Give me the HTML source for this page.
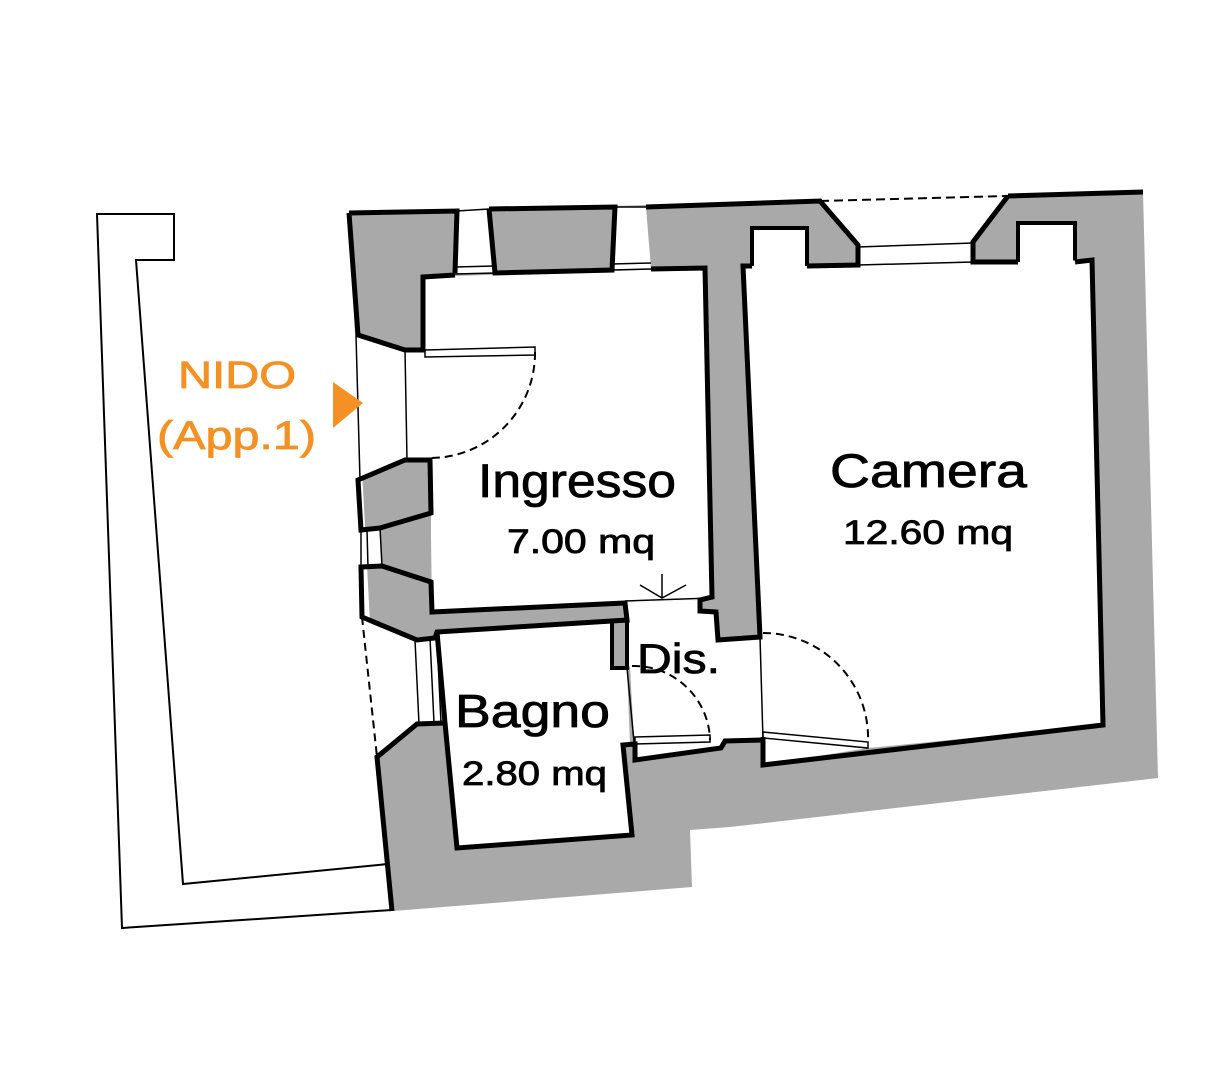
<!DOCTYPE html>
<html><head><meta charset="utf-8"><style>
html,body{margin:0;padding:0;background:#fff;}
svg{display:block;}
text{font-family:"Liberation Sans",sans-serif;}
</style></head><body>
<svg width="1231" height="1080" viewBox="0 0 1231 1080" xmlns="http://www.w3.org/2000/svg">
<rect width="1231" height="1080" fill="#fff"/>
<polygon points="97,214 174,214 174,260 136,260 183,884 388,864 392,910 122,928" fill="#fff" stroke="#000" stroke-width="2"/>

<polygon points="349,213 1143,192 1158,778 730,827 690,830 692,887 393,911 377,757 355,335" fill="#a9a9a9"/>

<polygon points="340,335 358,335 405,350 405,460 358,480 361,530 382,528 382,566 361,567 362,617 417,640 417,724 377,757 340,760" fill="#fff"/>
<polygon points="457,211 489,209 495,273 455,273" fill="#fff"/>
<polygon points="615,207 646,207 651,269 612,270" fill="#fff"/>
<polygon points="820,200 1008,196 973,242 973,262 858,265 858,245" fill="#fff"/>
<rect x="752" y="228" width="55" height="40" fill="#fff" stroke="#000" stroke-width="4"/>
<rect x="1018" y="223" width="57" height="41" fill="#fff" stroke="#000" stroke-width="4"/>

<polygon points="423,350 423,277 705,268 712,597 700,600 625,603 432,612 430,460 405,460 405,350" fill="#fff"/>
<polygon points="380,528 431,513 431,582 382,566" fill="#a9a9a9"/>
<polygon points="361,530 380,528 382,566 361,567" fill="#fff"/>
<polygon points="743,266 807,266 858,265 973,262 1018,262 1092,260 1103,725 868,748 763,765 763,740 760,637" fill="#fff"/>
<polygon points="625,603 700,600 700,611 716,612 718,640 760,637 763,740 725,741 721,748 635,760 630,666 627,668 627,620 625,603" fill="#fff"/>
<polygon points="437,632 610,620 612,668 627,668 630,745 623,745 632,835 457,848 445,723" fill="#fff"/>
<polygon points="417,640 437,638 445,723 417,724" fill="#fff"/>

<g fill="none" stroke="#000" stroke-linejoin="miter">
<polyline points="349,213 457,211 455,273" stroke-width="5"/>
<polyline points="489,209 615,207 612,270 495,273 489,209" stroke-width="5"/>
<polyline points="646,207 820,201 858,245 858,265 807,266" stroke-width="5"/>
<polyline points="1008,196 1143,192" stroke-width="5"/>
<polyline points="1008,196 973,242 973,262 1018,262" stroke-width="5"/>
<line x1="820" y1="201" x2="1008" y2="196" stroke-width="2" stroke-dasharray="9,5"/>
<line x1="457" y1="211" x2="489" y2="209" stroke-width="1.5"/>
<line x1="615" y1="207" x2="646" y2="207" stroke-width="1.5"/>
<line x1="455" y1="267" x2="495" y2="266" stroke-width="1.5"/>
<line x1="455" y1="274" x2="495" y2="273" stroke-width="1.5"/>
<line x1="612" y1="264" x2="651" y2="263" stroke-width="1.5"/>
<line x1="612" y1="270" x2="651" y2="269" stroke-width="1.5"/>
<line x1="858" y1="247" x2="973" y2="243" stroke-width="1.5"/>
<line x1="858" y1="265" x2="973" y2="262" stroke-width="1.5"/>
<polyline points="349,213 358,335 405,350 423,350 423,277 455,275" stroke-width="5"/>
<polyline points="651,269 705,268 712,597 700,600 700,611 716,612 718,640 760,637 743,266 752,266" stroke-width="5"/>
<line x1="356" y1="335" x2="360" y2="480" stroke-width="1.5"/>
<line x1="405" y1="350" x2="407" y2="460" stroke-width="1.5"/>
<polygon points="358,480 405,460 430,460 431,513 380,528 361,530" stroke-width="5"/>
<polygon points="361,567 382,566 431,582 432,612 625,603 627,620 437,632 435,638 417,640 362,617" stroke-width="5"/>
<line x1="361" y1="530" x2="361" y2="567" stroke-width="1.5"/>
<line x1="380" y1="528" x2="382" y2="566" stroke-width="1.5"/>
<line x1="367" y1="530" x2="368" y2="567" stroke-width="1.5"/>
<polyline points="612,622 612,668 627,668 627,620" stroke-width="4"/>
<polyline points="437,632 445,723 457,848 632,835 623,745 635,744 635,760 721,748 725,741 763,740" stroke-width="5"/>
<polyline points="763,737 763,765 1103,725 1092,260 1075,262" stroke-width="5"/>
<line x1="415" y1="640" x2="419" y2="724" stroke-width="1.5"/>
<line x1="430" y1="638" x2="434" y2="723" stroke-width="1.5"/>
<line x1="437" y1="638" x2="441" y2="723" stroke-width="1.5"/>
<polyline points="392,911 377,757 417,724 445,723" stroke-width="5"/>
<line x1="362" y1="617" x2="377" y2="757" stroke-width="2" stroke-dasharray="8,5"/>
<line x1="627" y1="668" x2="634" y2="742" stroke-width="1.5"/>
<line x1="760" y1="637" x2="763" y2="740" stroke-width="1.5"/>
<line x1="625" y1="601" x2="712" y2="598" stroke-width="1.5"/>
<line x1="662" y1="598" x2="662" y2="574" stroke-width="1.5"/>
<polyline points="640,585 662,598 686,585" stroke-width="1.5"/>
<polygon points="425,350 535,347 535,355 425,357" stroke-width="1.5"/>
<path d="M535,352 A105,105 0 0 1 430,458" stroke-width="2" stroke-dasharray="8,5"/>
<polygon points="635,737 710,735 710,742 635,744" stroke-width="1.5"/>
<path d="M632,666 A76,76 0 0 1 710,740" stroke-width="2" stroke-dasharray="8,5"/>
<polygon points="763,732 868,742 868,748 763,738" stroke-width="1.5"/>
<path d="M763,633 A105,105 0 0 1 868,742" stroke-width="2" stroke-dasharray="8,5"/>
</g>

<polygon points="333,382 363,403 333,428" fill="#f39125"/>
<g stroke-width="0.8">
<text x="178" y="388" font-size="38" fill="#f39125" stroke="#f39125" textLength="118" lengthAdjust="spacingAndGlyphs">NIDO</text>
<text x="157" y="449" font-size="40" fill="#f39125" stroke="#f39125" textLength="159" lengthAdjust="spacingAndGlyphs">(App.1)</text>
<text x="478" y="497" font-size="47" fill="#000" stroke="#000" textLength="198" lengthAdjust="spacingAndGlyphs">Ingresso</text>
<text x="507" y="553" font-size="34" fill="#000" stroke="#000" textLength="148" lengthAdjust="spacingAndGlyphs">7.00 mq</text>
<text x="830" y="487" font-size="47" fill="#000" stroke="#000" textLength="197" lengthAdjust="spacingAndGlyphs">Camera</text>
<text x="843" y="544" font-size="34" fill="#000" stroke="#000" textLength="170" lengthAdjust="spacingAndGlyphs">12.60 mq</text>
<text x="637" y="673" font-size="42" fill="#000" stroke="#000" textLength="83" lengthAdjust="spacingAndGlyphs">Dis.</text>
<text x="455" y="727" font-size="46" fill="#000" stroke="#000" textLength="155" lengthAdjust="spacingAndGlyphs">Bagno</text>
<text x="462" y="785" font-size="34" fill="#000" stroke="#000" textLength="145" lengthAdjust="spacingAndGlyphs">2.80 mq</text>
</g>
</svg>
</body></html>
